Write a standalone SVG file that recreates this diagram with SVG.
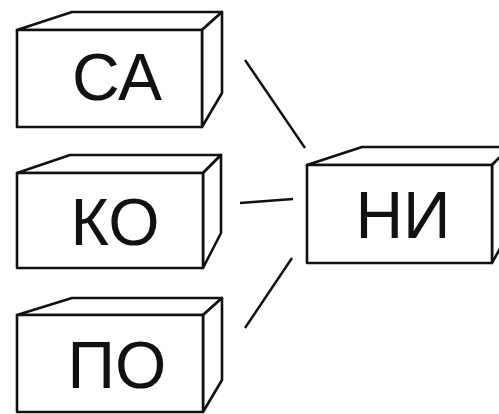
<svg xmlns="http://www.w3.org/2000/svg" width="499" height="414" viewBox="0 0 499 414">
<style>
.f{fill:#fff;stroke:#111;stroke-width:2.6;stroke-linejoin:round}
.t{font-family:"Liberation Sans",Arial,sans-serif;font-size:66px;fill:#111;text-anchor:middle}
.c{stroke:#111;stroke-width:2.4;fill:none}
</style>
<rect width="499" height="414" fill="#fff"/>
<g id="connectors">
<line class="c" x1="245" y1="60" x2="305" y2="148"/>
<line class="c" x1="240" y1="203" x2="293" y2="199"/>
<line class="c" x1="245" y1="328" x2="292" y2="258"/>
</g>
<g id="node-ca">
<polygon class="f" points="17,30 72,12 222,12 202,30"/>
<polygon class="f" points="202,30 222,12 222,93 202,127"/>
<rect class="f" x="17" y="30" width="185" height="97"/>
<text class="t" x="117" y="100">СА</text>
</g>
<g id="node-ko">
<polygon class="f" points="17,173 70,155 221,155 203,173"/>
<polygon class="f" points="203,173 221,155 221,233 203,268"/>
<rect class="f" x="17" y="173" width="186" height="95"/>
<text class="t" x="115" y="245">КО</text>
</g>
<g id="node-po">
<polygon class="f" points="17,315 72,298 222,298 203,315"/>
<polygon class="f" points="203,315 222,298 222,380 203,412"/>
<rect class="f" x="17" y="315" width="186" height="97"/>
<text class="t" x="117" y="388">ПО</text>
</g>
<g id="node-ni">
<polygon class="f" points="307,165 362,147 510,147 492,165"/>
<polygon class="f" points="492,165 510,147 510,230 492,263"/>
<rect class="f" x="307" y="165" width="185" height="98"/>
<text class="t" x="403" y="238">НИ</text>
</g>
</svg>
